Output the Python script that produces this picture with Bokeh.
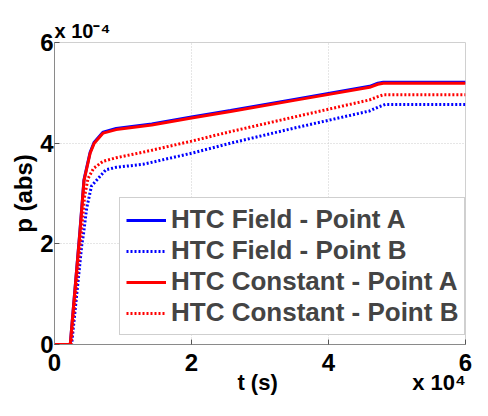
from bokeh.plotting import figure
from bokeh.models import Range1d, FixedTicker
from bokeh.embed import file_html
from bokeh.resources import INLINE

# time in units of 1e4 s, pressure in units of 1e-4 (abs)
t_field_a = [0, 0.23, 0.37, 0.43, 0.52, 0.58, 0.71, 0.90, 1.42, 2.00, 2.57, 3.50, 4.60, 4.72, 4.80, 6.00]
p_field_a = [0, 0, 2.24, 3.27, 3.82, 4.02, 4.22, 4.29, 4.38, 4.52, 4.65, 4.87, 5.13, 5.19, 5.21, 5.21]

t_field_b = [0, 0.25, 0.40, 0.42, 0.47, 0.54, 0.75, 0.90, 1.29, 1.42, 2.00, 2.57, 3.50, 4.60, 4.73, 4.83, 6.00]
p_field_b = [0, 0, 2.00, 2.16, 2.71, 3.15, 3.47, 3.52, 3.58, 3.62, 3.80, 4.00, 4.30, 4.64, 4.72, 4.77, 4.77]

t_const_a = [0, 0.23, 0.37, 0.43, 0.52, 0.58, 0.71, 0.90, 1.42, 2.00, 2.57, 3.50, 4.60, 4.72, 4.80, 6.00]
p_const_a = [0, 0, 2.22, 3.25, 3.80, 4.00, 4.20, 4.27, 4.36, 4.50, 4.63, 4.85, 5.11, 5.17, 5.19, 5.19]

t_const_b = [0, 0.24, 0.39, 0.44, 0.49, 0.57, 0.71, 0.90, 1.29, 1.42, 2.00, 2.57, 3.50, 4.60, 4.71, 4.80, 6.00]
p_const_b = [0, 0, 2.20, 2.95, 3.30, 3.50, 3.64, 3.71, 3.82, 3.86, 4.04, 4.23, 4.52, 4.86, 4.92, 4.96, 4.96]

x_ticks = [0, 2, 4, 6]
y_ticks = [0, 2, 4, 6]

labels = ["HTC Field - Point A", "HTC Field - Point B",
          "HTC Constant - Point A", "HTC Constant - Point B"]

x_label = "t (s)"
y_label = "p (abs)"
x_mult = "x 10\u2074"
y_mult = "x 10\u207b\u2074"

FONT = "Liberation Sans"
NB = "\u00a0"

p = figure(width=472, height=400, x_range=Range1d(0, 6), y_range=Range1d(0, 6),
           output_backend="svg", toolbar_location=None,
           min_border_left=54, min_border_right=7, min_border_top=42, min_border_bottom=56)

p.line(t_field_a, p_field_a, color="#0000ff", line_width=3, legend_label=labels[0])
p.line(t_field_b, p_field_b, color="#0000ff", line_width=3, line_dash="2 2", legend_label=labels[1])
p.line(t_const_a, p_const_a, color="#ff0000", line_width=3, legend_label=labels[2])
p.line(t_const_b, p_const_b, color="#ff0000", line_width=3, line_dash="2 2", legend_label=labels[3])

p.xaxis.ticker = FixedTicker(ticks=x_ticks)
p.yaxis.ticker = FixedTicker(ticks=y_ticks)
p.xgrid.ticker = FixedTicker(ticks=x_ticks)
p.ygrid.ticker = FixedTicker(ticks=y_ticks)

for ax in (p.xaxis[0], p.yaxis[0]):
    ax.axis_line_color = "#8a8a8a"
    ax.major_tick_in = 5
    ax.major_tick_out = 0
    ax.major_tick_line_color = "#555555"
    ax.minor_tick_line_color = None
    ax.major_label_text_font = FONT
    ax.major_label_text_font_style = "bold"
    ax.major_label_text_font_size = "24px"
    ax.major_label_text_color = "black"
    ax.axis_label_text_font = FONT
    ax.axis_label_text_font_style = "bold"
    ax.axis_label_text_color = "black"

# x axis label carries the x multiplier at its right end
p.xaxis.axis_label = NB * 30 + x_label + NB * 22 + x_mult
p.xaxis.axis_label_text_font_size = "22px"
p.yaxis.axis_label = y_label
p.yaxis.axis_label_text_font_size = "24px"
p.xaxis.major_label_standoff = 9
p.yaxis.major_label_standoff = 1
p.xaxis.axis_label_standoff = -4
p.yaxis.axis_label_standoff = 0

# y multiplier as the title, top-left above the frame
p.title.text = y_mult
p.title.align = "left"
p.title.text_font = FONT
p.title.text_font_style = "bold"
p.title.text_font_size = "20px"
p.title.text_color = "black"
p.title.standoff = 2
p.title.offset = 0

p.grid.grid_line_color = "#cccccc"
p.grid.grid_line_dash = "1 2"
p.outline_line_color = "#d0d0d0"
p.background_fill_color = "white"
p.border_fill_color = "white"

p.legend.location = (65, 9)
p.legend.margin = 0
p.legend.padding = 6
p.legend.spacing = 0
p.legend.glyph_width = 40
p.legend.glyph_height = 30
p.legend.label_height = 30
p.legend.label_standoff = 5
p.legend.label_text_font = FONT
p.legend.label_text_font_style = "bold"
p.legend.label_text_font_size = "26px"
p.legend.border_line_color = "#a0a0a0"
p.legend.border_line_width = 1
p.legend.background_fill_alpha = 1

open("out.html", "w").write(file_html(p, INLINE))
